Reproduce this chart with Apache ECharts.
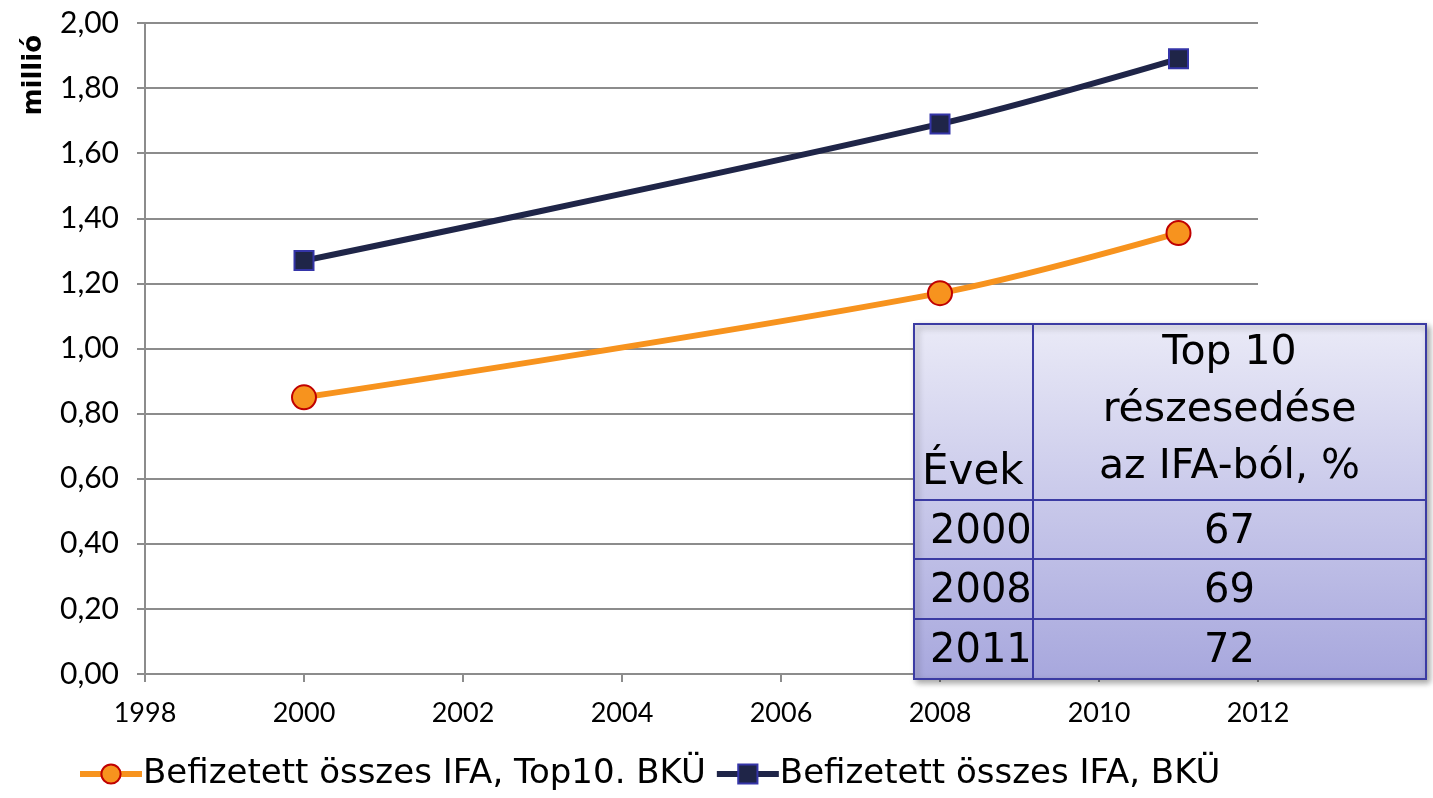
<!DOCTYPE html>
<html>
<head>
<meta charset="utf-8">
<script src="https://cdn.jsdelivr.net/npm/echarts@6/dist/echarts.min.js"></script>
<style>
  html, body { margin: 0; padding: 0; background: #fff; }
  #chart { width: 1433px; height: 798px; }
</style>
</head>
<body>
<div id="chart"></div>
<script>
// adatok
const years = [2000, 2008, 2011]
const top10 = [0.85, 1.17, 1.355]
const bku = [1.27, 1.69, 1.89]
const seriesNames = ['Befizetett összes IFA, Top10. BKÜ', 'Befizetett összes IFA, BKÜ']
const tableHead = ['Évek', 'Top 10\nrészesedése\naz IFA-ból, %']
const tableYears = ['2000', '2008', '2011']
const tableShares = ['67', '69', '72']

const font = '"DejaVu Sans", Verdana, sans-serif'
const tickFont = 'Lato, "Open Sans", sans-serif'

const chart = echarts.init(document.getElementById('chart'))

// table overlay
const tx = 914, ty = 324, tw = 512, th = 355, colX = 1033
const rowTops = [ty, 500, 559, 619, ty + th]
const tableEls = [
  {
    type: 'rect',
    shape: { x: tx, y: ty, width: tw, height: th },
    style: {
      fill: new echarts.graphic.LinearGradient(0, 0, 0, 1, [
        { offset: 0, color: '#eaeaf7' },
        { offset: 1, color: '#a7a7dd' }
      ]),
      stroke: '#3b3ba3',
      lineWidth: 2,
      shadowBlur: 6,
      shadowOffsetX: 3,
      shadowOffsetY: 3,
      shadowColor: 'rgba(0,0,0,0.35)'
    },
    z: 100
  },
  {
    type: 'line',
    shape: { x1: colX, y1: ty, x2: colX, y2: ty + th },
    style: { stroke: '#3b3ba3', lineWidth: 2 },
    z: 101
  },
  {
    type: 'text',
    x: tx + 8, y: rowTops[1] - 6,
    style: { text: tableHead[0], font: '42px ' + font, fill: '#000', align: 'left', verticalAlign: 'bottom' },
    z: 102
  },
  {
    type: 'text',
    x: (colX + tx + tw) / 2, y: rowTops[1] - 4,
    style: { text: tableHead[1], font: '41px ' + font, fill: '#000', align: 'center', verticalAlign: 'bottom', lineHeight: 57 },
    z: 102
  }
]
tableYears.forEach((yr, i) => {
  tableEls.push({
    type: 'line',
    shape: { x1: tx, y1: rowTops[i + 1], x2: tx + tw, y2: rowTops[i + 1] },
    style: { stroke: '#3b3ba3', lineWidth: 2 },
    z: 101
  })
  const cy = (rowTops[i + 1] + rowTops[i + 2]) / 2
  tableEls.push({
    type: 'text', x: tx + 16, y: cy + 3,
    style: { text: yr, font: '40px ' + font, fill: '#000', align: 'left', verticalAlign: 'middle' },
    z: 102
  })
  tableEls.push({
    type: 'text', x: (colX + tx + tw) / 2, y: cy + 3,
    style: { text: tableShares[i], font: '40px ' + font, fill: '#000', align: 'center', verticalAlign: 'middle' },
    z: 102
  })
})

const option = {
  animation: false,
  grid: { left: 145, right: 175, top: 23, bottom: 124 },
  legend: {
    left: 72,
    bottom: 2,
    itemWidth: 62,
    itemHeight: 24,
    itemGap: 8,
    lineStyle: { width: 6 },
    textStyle: { fontSize: 34, fontFamily: font, color: '#000', padding: [0, 0, 0, -4] },
    data: seriesNames
  },
  xAxis: {
    type: 'value',
    min: 1998,
    max: 2012,
    interval: 2,
    splitLine: { show: false },
    axisLine: { lineStyle: { color: '#8c8c8c', width: 2 } },
    axisTick: { show: true, length: 8, lineStyle: { color: '#8c8c8c', width: 2 } },
    axisLabel: { fontSize: 27, fontFamily: tickFont, color: '#000', margin: 26, formatter: v => String(v) }
  },
  yAxis: {
    type: 'value',
    min: 0,
    max: 2,
    interval: 0.2,
    name: 'millió',
    nameLocation: 'end',
    nameRotate: 90,
    nameGap: 0,
    nameTextStyle: { fontSize: 26, fontWeight: 'bold', fontFamily: font, color: '#000', align: 'right', verticalAlign: 'bottom', padding: [0, 12, 98, 0] },
    axisLine: { show: true, lineStyle: { color: '#8c8c8c', width: 2 } },
    axisTick: { show: true, inside: false, length: 8, lineStyle: { color: '#8c8c8c', width: 2 } },
    splitLine: { lineStyle: { color: '#8c8c8c', width: 2 } },
    axisLabel: {
      fontSize: 30, fontFamily: tickFont, color: '#000', margin: 26,
      formatter: v => v.toFixed(2).replace('.', ',')
    }
  },
  series: [
    {
      name: seriesNames[0],
      type: 'line',
      smooth: 0.35,
      data: years.map((y, i) => [y, top10[i]]),
      lineStyle: { color: '#f7931e', width: 6 },
      itemStyle: { color: '#f7931e', borderColor: '#c00000', borderWidth: 2 },
      symbol: 'circle',
      symbolSize: 24,
      z: 3
    },
    {
      name: seriesNames[1],
      type: 'line',
      smooth: 0.35,
      data: years.map((y, i) => [y, bku[i]]),
      lineStyle: { color: '#1f2548', width: 6 },
      itemStyle: { color: '#1f2548', borderColor: '#3535a8', borderWidth: 2 },
      symbol: 'rect',
      symbolSize: 19,
      z: 3
    }
  ],
  graphic: tableEls
}

chart.setOption(option)
window.addEventListener('resize', () => chart.resize())
</script>
</body>
</html>
